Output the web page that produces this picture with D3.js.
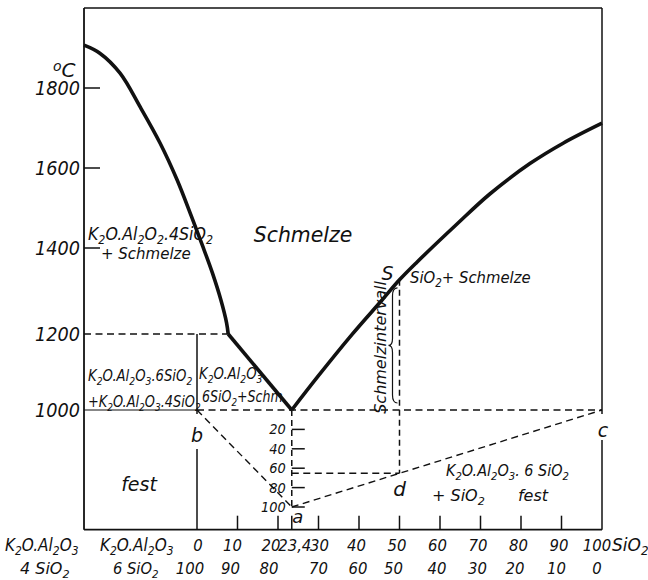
<!DOCTYPE html>
<html>
<head>
<meta charset="utf-8">
<script src="https://cdn.jsdelivr.net/npm/d3@7"></script>
<style>
  body { margin: 0; background: #fff; }
  svg text {
    font-family: "DejaVu Sans", sans-serif;
    font-style: italic;
    fill: #111;
  }
</style>
</head>
<body>
<svg id="chart" width="648" height="580"></svg>
<script>
// temperature axis (deg C)
var tempTicks = [1000, 1200, 1400, 1600, 1800];
// composition axis: % SiO2 in mixture K2O.Al2O3.6SiO2 + SiO2
var compTicks = [0, 10, 20, 23.4, 30, 40, 50, 60, 70, 80, 90, 100];
var compLabels = ["0", "10", "20", "23,4", "30", "40", "50", "60", "70", "80", "90", "100"];
var compLabels2 = ["100", "90", "80", "", "70", "60", "50", "40", "30", "20", "10", "0"];
// scale on the eutectic line (a)
var eutScale = [20, 40, 60, 80, 100];

// liquidus curves [composition, temperature]; negative composition = 4SiO2..6SiO2 range
var leftLiquidus = [[-27.9, 1907], [-24.0, 1887], [-19.0, 1837], [-14.0, 1752], [-9.1, 1662],
  [-4.9, 1570], [-1.3, 1477], [1.5, 1402], [3.8, 1342], [5.9, 1279], [7.3, 1226], [7.7, 1200]];
var peritecticLine = [[7.7, 1200], [23.4, 1000]];
var rightLiquidus = [[23.4, 1000], [29.9, 1089], [38.3, 1199], [45.7, 1279], [50, 1326], [54.3, 1367],
  [64.2, 1460], [72.3, 1535], [82.2, 1611], [90.4, 1662], [100, 1712]];

var eutectic = 23.4;   // point a
var sampleComp = 50;   // point d / S
var tS = 1326;
var xMin = -27.9, tMin = 685, tMax = 2000;

var svg = d3.select("#chart");

var x = d3.scaleLinear().domain([0, 100]).range([197, 602]);
// the drawn axis is not quite even, so piecewise
var y = d3.scaleLinear().domain([1000, 1200, 1400, 1800]).range([410, 334, 248, 88]);
// 0..100 scale hanging below the eutectic
var yA = d3.scaleLinear().domain([0, 100]).range([y(1000), y(1000) + 97]);

var ink = "#111";

function line(x1, y1, x2, y2, w, dash) {
  var l = svg.append("line")
    .attr("x1", x1).attr("y1", y1).attr("x2", x2).attr("y2", y2)
    .attr("stroke", ink).attr("stroke-width", w);
  if (dash) l.attr("stroke-dasharray", dash);
  return l;
}

// text with _n subscripts
function label(x0, y0, str, size, anchor, sx) {
  var t = svg.append("text")
    .attr("transform", "translate(" + x0 + "," + y0 + ")" + (sx ? " scale(" + sx + ",1)" : ""))
    .style("font-size", size + "px")
    .attr("text-anchor", anchor || "start");
  var shift = 0;
  str.split(/(_\d+)/).forEach(function (p) {
    if (!p) return;
    if (p[0] == "_") {
      t.append("tspan").attr("dy", size * 0.26 - shift)
        .style("font-size", size * 0.7 + "px").text(p.slice(1));
      shift = size * 0.26;
    } else {
      t.append("tspan").attr("dy", -shift).text(p);
      shift = 0;
    }
  });
  return t;
}

var dash = "7,4.5";
var x0 = x(xMin), x1 = x(100), yT = y(tMax), yB = y(tMin);

// frame
line(x0, yT, x1, yT, 1.5);
line(x0, yT, x0, yB, 1.8);
line(x0, yB, x1, yB, 1.8);
line(x1, yT, x1, y(1000) + 4, 1.5);
line(x1, y(1000) + 30, x1, yB, 1.5);

// b line (K2O.Al2O3.6SiO2)
line(x(0), y(1200), x(0), y(1000) + 4, 1.5);
line(x(0), y(1000) + 39, x(0), yB, 1.5);

// temperature ticks
tempTicks.forEach(function (t) {
  if (t >= 1400) line(x0, y(t), x0 + 16, y(t), 1.5);
  label(80, y(t) + 7, String(t), 19, "end", 0.93);
});
svg.append("text").attr("transform", "translate(53,77)").style("font-size", "20px")
  .call(function (t) {
    t.append("tspan").style("font-size", "14px").attr("dy", -6).text("o");
    t.append("tspan").attr("dy", 6).text("C");
  });

// horizontal 1200 / 1000 lines
line(x0, y(1200), x(peritecticLine[0][0]), y(1200), 1.5, dash);
line(x0, y(1000), x(0), y(1000), 1.2);
line(x(0), y(1000), x1, y(1000), 1.5, dash);

// bottom ticks and labels
compTicks.forEach(function (c) {
  if (c > 0 && c < 100) line(x(c), yB - 14, x(c), yB, 1.5);
});
var nudge1 = { "0": 1, "10": -5, "20": -7, "23,4": 3, "30": 1, "100": -5 };
var nudge2 = { "100": -7, "90": -7, "80": -9, "70": 0, "60": -1, "50": -6, "20": -6, "10": -5, "0": -5 };
compLabels.forEach(function (s, i) {
  var n = s in nudge1 ? nudge1[s] : -2.5;
  label(x(compTicks[i]) + n, 551, s, 16, "middle", 0.93);
});
compLabels2.forEach(function (s, i) {
  if (!s) return;
  var n = s in nudge2 ? nudge2[s] : -3;
  label(x(compTicks[i]) + n, 574, s, 16, "middle", 0.93);
});
label(612, 551, "SiO_2", 17, "start");
label(5, 551, "K_2O.Al_2O_3", 17, "start", 0.9);
label(100, 551, "K_2O.Al_2O_3", 17, "start", 0.9);
label(20, 574, "4 SiO_2", 16, "start");
label(113, 574, "6 SiO_2", 16, "start", 0.92);

// eutectic vertical with its 0..100 scale
line(x(eutectic), y(1000), x(eutectic), yA(100), 1.5, "6,4");
eutScale.forEach(function (v) {
  line(x(eutectic), yA(v), x(eutectic) + 13, yA(v), 1.5);
  label(x(eutectic) - 6, yA(v) + 5, String(v), 14, "end", 0.93);
});

// b -> a and a -> c tie lines
line(x(0), y(1000), x(eutectic), yA(100), 1.4, dash);
line(x(eutectic), yA(100), x(100), y(1000), 1.4, dash);

// d: sample at 50 %
var aAtD = 100 * (100 - sampleComp) / (100 - eutectic);
line(x(sampleComp), y(tS), x(sampleComp), yA(aAtD), 1.5, "6,4");
line(x(eutectic), yA(aAtD), x(sampleComp), yA(aAtD), 1.5, dash);

// liquidus curves
var path = d3.line().x(function (d) { return x(d[0]); }).y(function (d) { return y(d[1]); });
svg.append("path").datum(leftLiquidus)
  .attr("d", path.curve(d3.curveCatmullRom))
  .attr("fill", "none").attr("stroke", ink).attr("stroke-width", 3.6);
svg.append("path").datum(peritecticLine)
  .attr("d", path.curve(d3.curveLinear))
  .attr("fill", "none").attr("stroke", ink).attr("stroke-width", 3.6);
svg.append("path").datum(rightLiquidus)
  .attr("d", path.curve(d3.curveCatmullRom))
  .attr("fill", "none").attr("stroke", ink).attr("stroke-width", 3.6);

// brace for Schmelzintervall
var bx = x(sampleComp) - 7, bt = y(tS) + 8, bb = y(1000) - 7, bm = (bt + bb) / 2;
svg.append("path")
  .attr("d", "M" + (bx + 5) + "," + bt + " Q" + bx + "," + bt + " " + bx + "," + (bt + 8) +
    " L" + bx + "," + (bm - 7) + " Q" + bx + "," + bm + " " + (bx - 4) + "," + bm +
    " Q" + bx + "," + bm + " " + bx + "," + (bm + 7) +
    " L" + bx + "," + (bb - 8) + " Q" + bx + "," + bb + " " + (bx + 5) + "," + bb)
  .attr("fill", "none").attr("stroke", ink).attr("stroke-width", 1.2);
svg.append("text")
  .attr("transform", "translate(" + (bx - 7) + "," + (bm + 2) + ") rotate(-90)")
  .attr("text-anchor", "middle").style("font-size", "16px")
  .text("Schmelzintervall");

// point labels
label(x(0), y(1000) + 32, "b", 19, "middle");
label(x(100) + 1, y(1000) + 27, "c", 19, "middle");
label(x(sampleComp), yA(aAtD) + 23, "d", 20, "middle");
label(x(eutectic) + 6, yA(100) + 16, "a", 18, "middle");
label(x(sampleComp) - 12, y(tS), "S", 19, "middle");

// field labels
label(303, 242, "Schmelze", 22, "middle", 0.93);
label(88, 240, "K_2O.Al_2O_2.4SiO_2", 17, "start", 0.93);
label(101, 259, "+ Schmelze", 15, "start");
label(88, 381, "K_2O.Al_2O_3.6SiO_2", 15, "start", 0.88);
label(88, 407, "+K_2O.Al_2O_3.4SiO_2", 15, "start", 0.86);
label(199, 379, "K_2O.Al_2O_3", 15, "start", 0.88);
label(202, 402, "6SiO_2+Schm.", 15, "start", 0.84);
label(139, 491, "fest", 19, "middle");
label(410, 283, "SiO_2+ Schmelze", 16.5, "start", 0.9);
label(446, 476, "K_2O.Al_2O_3. 6 SiO_2", 16, "start", 0.9);
label(432, 501, "+ SiO_2", 16, "start");
label(533, 501, "fest", 16, "middle");
</script>
</body>
</html>
